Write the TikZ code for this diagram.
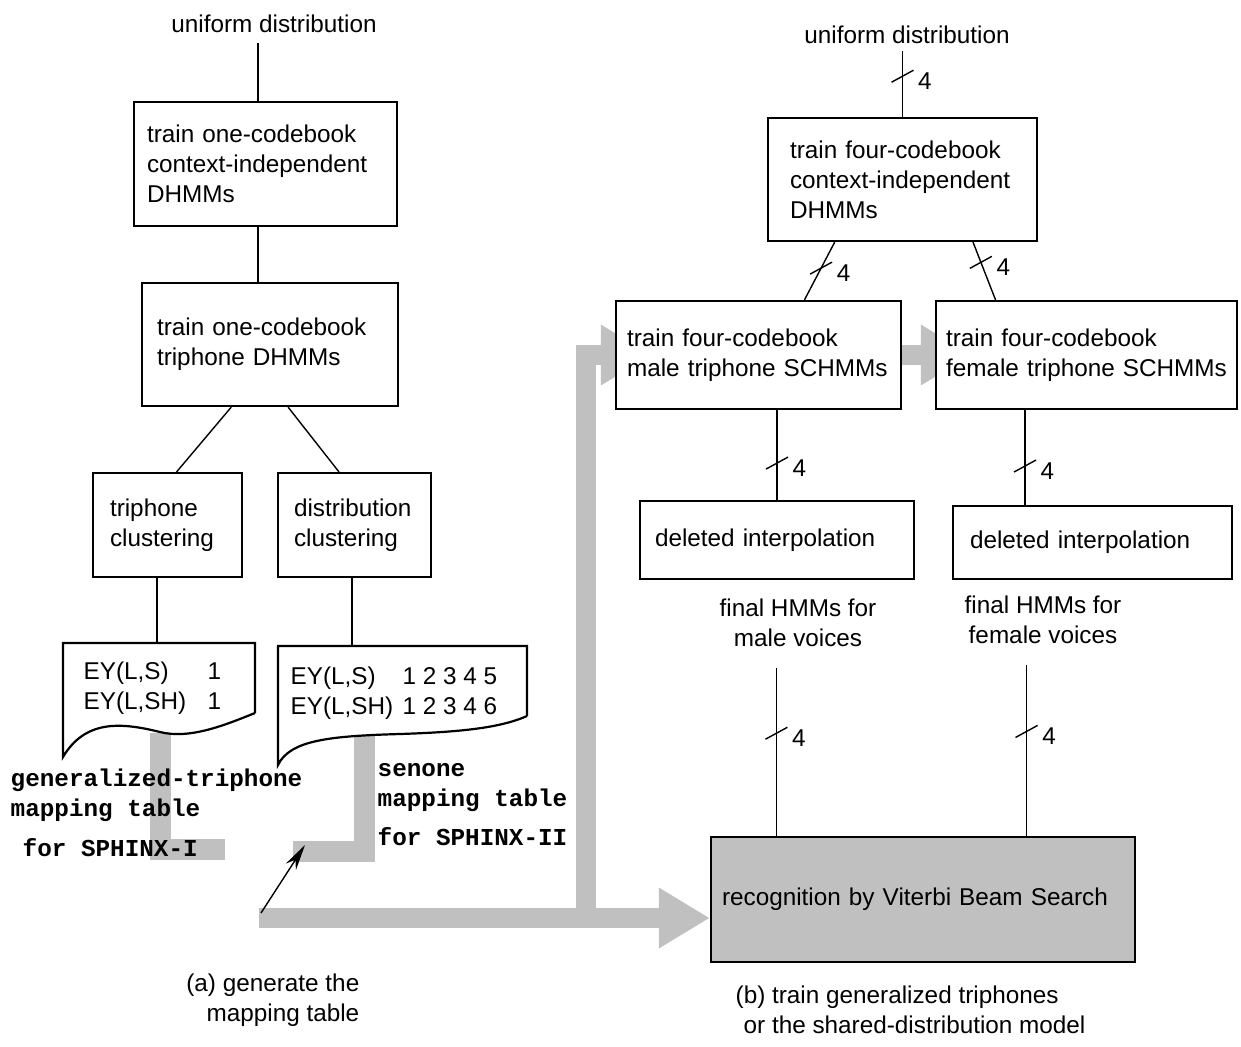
\documentclass[tikz,border=0pt]{standalone}
\usepackage{fontspec}
\setmainfont{Liberation Sans}
\setmonofont{Liberation Mono}
\usetikzlibrary{arrows.meta,calc,decorations.markings,backgrounds}
\definecolor{bandgray}{RGB}{192,192,192}
\tikzset{
  every node/.style={font=\fontsize{12.15}{15}\selectfont},
  box/.style={draw,line width=1.1pt,fill=white,align=left,inner ysep=2pt},
  tabtext/.style={font=\ttfamily\bfseries\fontsize{12.15}{15}\selectfont,align=left,inner sep=0pt},
  band/.style={draw=bandgray,line width=10.5pt},
  bandarrow/.style={draw=bandgray,line width=10pt,-{Triangle[length=25.5pt,width=28.5pt]}},
  bus/.style={postaction={decorate,decoration={markings,mark=at position #1 with {\pgftransformresetnontranslations
    \draw[line width=0.7pt] (-11,6) -- (11,-6);
    \node[anchor=west,inner sep=0pt] at (15,5) {4};}}}}
}

\begin{document}
\begin{tikzpicture}[x=0.5pt,y=-0.5pt,line width=0.7pt]
\useasboundingbox (0,0) rectangle (1241,1046);

\node (u1) at (274,24) {uniform distribution};
\node[box,text width=118.5pt,inner xsep=6.5pt,minimum height=62pt] (b1) at (265.5,164) {train one-codebook\\context-independent\\DHMMs};
\node[box,text width=113pt,inner xsep=7.5pt,minimum height=61.5pt] (b2) at (270,344.5) {train one-codebook\\triphone DHMMs};
\node[box,text width=57.5pt,inner xsep=8.5pt,minimum height=52pt] (b3) at (167.5,525) {triphone\\clustering};
\node[box,text width=60.5pt,inner xsep=8pt,minimum height=52pt] (b4) at (354.5,525) {distribution\\clustering};

\coordinate (lx) at (258,43);
\draw (lx) -- (lx |- b1.north);
\draw (lx |- b1.south) -- (lx |- b2.north);
\draw ($(b2.south west)!0.35!(b2.south east)$) -- ($(b3.north west)!0.56!(b3.north east)$);
\draw ($(b2.south west)!0.57!(b2.south east)$) -- ($(b4.north west)!0.40!(b4.north east)$);

\coordinate (d1top) at (157,643);
\coordinate (d2top) at (352,646);
\draw (d1top |- b3.south) -- (d1top);
\draw (d2top |- b4.south) -- (d2top);
\draw[line width=1.1pt] (255,713) -- (255,643) -- (63,643) -- (63,757) .. controls (85,720) and (120,722) .. (160,732) .. controls (190,739.5) and (225,725) .. (255,713);
\draw[line width=1.1pt] (527,716) -- (527,646) -- (278,646) -- (278,765) .. controls (290,740) and (330,736) .. (400,734) .. controls (460,732) and (500,728) .. (527,716);
\node[inner sep=0pt,anchor=base west] (d1) at (83,679) {\begin{tabular}[t]{@{}p{62pt}@{}l@{}}EY(L,S) & 1\\ EY(L,SH) & 1\end{tabular}};
\node[inner sep=0pt,anchor=base west] (d2) at (290,684) {\begin{tabular}[t]{@{}p{56pt}@{}l@{}}EY(L,S) & 1 2 3 4 5\\ EY(L,SH) & 1 2 3 4 6\end{tabular}};

\node[tabtext,anchor=base west] (gt) at (10,856) {generalized-triphone\\mapping table\\[5pt]\hspace*{6pt}for SPHINX-I};
\node[tabtext,anchor=base west] (sn) at (377,845) {senone\\mapping table\\[4.5pt]for SPHINX-II};
\node[align=right,anchor=east,inner sep=0pt] (capa) at (360,1000) {(a) generate the\\mapping table};

\node (u2) at (907,35) {uniform distribution};
\node[box,text width=112.5pt,inner xsep=11pt,minimum height=61.5pt] (b5) at (902.5,179.5) {train four-codebook\\context-independent\\DHMMs};
\node[box,text width=131.5pt,inner xsep=5.5pt,minimum height=54pt] (b6) at (758.5,355) {train four-codebook\\male triphone SCHMMs};
\node[box,text width=140.5pt,inner xsep=5pt,minimum height=54pt] (b8) at (1086.5,355) {train four-codebook\\female triphone SCHMMs};
\node[box,text width=122pt,inner xsep=7.5pt,minimum height=39pt] (b7) at (777,540) {deleted interpolation};
\node[box,text width=122.5pt,inner xsep=8.5pt,minimum height=36.5pt] (b9) at (1092.5,542.5) {deleted interpolation};
\node[align=center,inner ysep=10pt] (f1) at (798,623) {final HMMs for\\male voices};
\node[align=center,inner ysep=10pt] (f2) at (1043,620) {final HMMs for\\female voices};
\node[box,fill=bandgray,text width=201pt,inner xsep=5.5pt,minimum height=62.5pt] (rec) at (923,899.5) {recognition by Viterbi Beam Search};
\node[align=left,anchor=west,inner sep=0pt] (capb) at (735,1010) {(b) train generalized triphones\\\hspace*{4pt}or the shared-distribution model};

\draw[bus=0.38] (b5.north |- u2.south) -- (b5.north);
\draw[bus=0.45] ($(b5.south west)!0.25!(b5.south east)$) -- ($(b6.north west)!0.66!(b6.north east)$);
\draw[bus=0.35] ($(b5.south west)!0.76!(b5.south east)$) -- ($(b8.north west)!0.2!(b8.north east)$);
\draw[bus=0.59] (b6.south -| b7.north) -- (b7.north);
\coordinate (r2top) at ($(b9.north west)!0.26!(b9.north east)$);
\draw[bus=0.59] (r2top |- b8.south) -- (r2top);
\coordinate (r1) at ($(rec.north west)!0.156!(rec.north east)$);
\coordinate (r2) at ($(rec.north west)!0.743!(rec.north east)$);
\draw[bus=0.39] (r1 |- f1.south) -- (r1);
\draw[bus=0.39] (r2 |- f2.south) -- (r2);

\begin{scope}[on background layer]
\draw[band] (160,733) |- (225,849);
\draw[band] (364,736) |- (293,851);
\coordinate (gs) at (259,918);
\coordinate (gj) at (586,918);
\draw[bandarrow] (gs) -- (rec.west |- gs);
\draw[bandarrow] (gj) |- ([xshift=18.5pt]b6.west);
\draw[bandarrow] (b6.east) -- ([xshift=18.5pt]b8.west);
\end{scope}

\coordinate (ta) at (261,913);
\coordinate (tb) at (305,845);
\draw[-{Stealth[length=13pt,width=6pt]}] (ta) -- (tb);
\end{tikzpicture}
\end{document}
